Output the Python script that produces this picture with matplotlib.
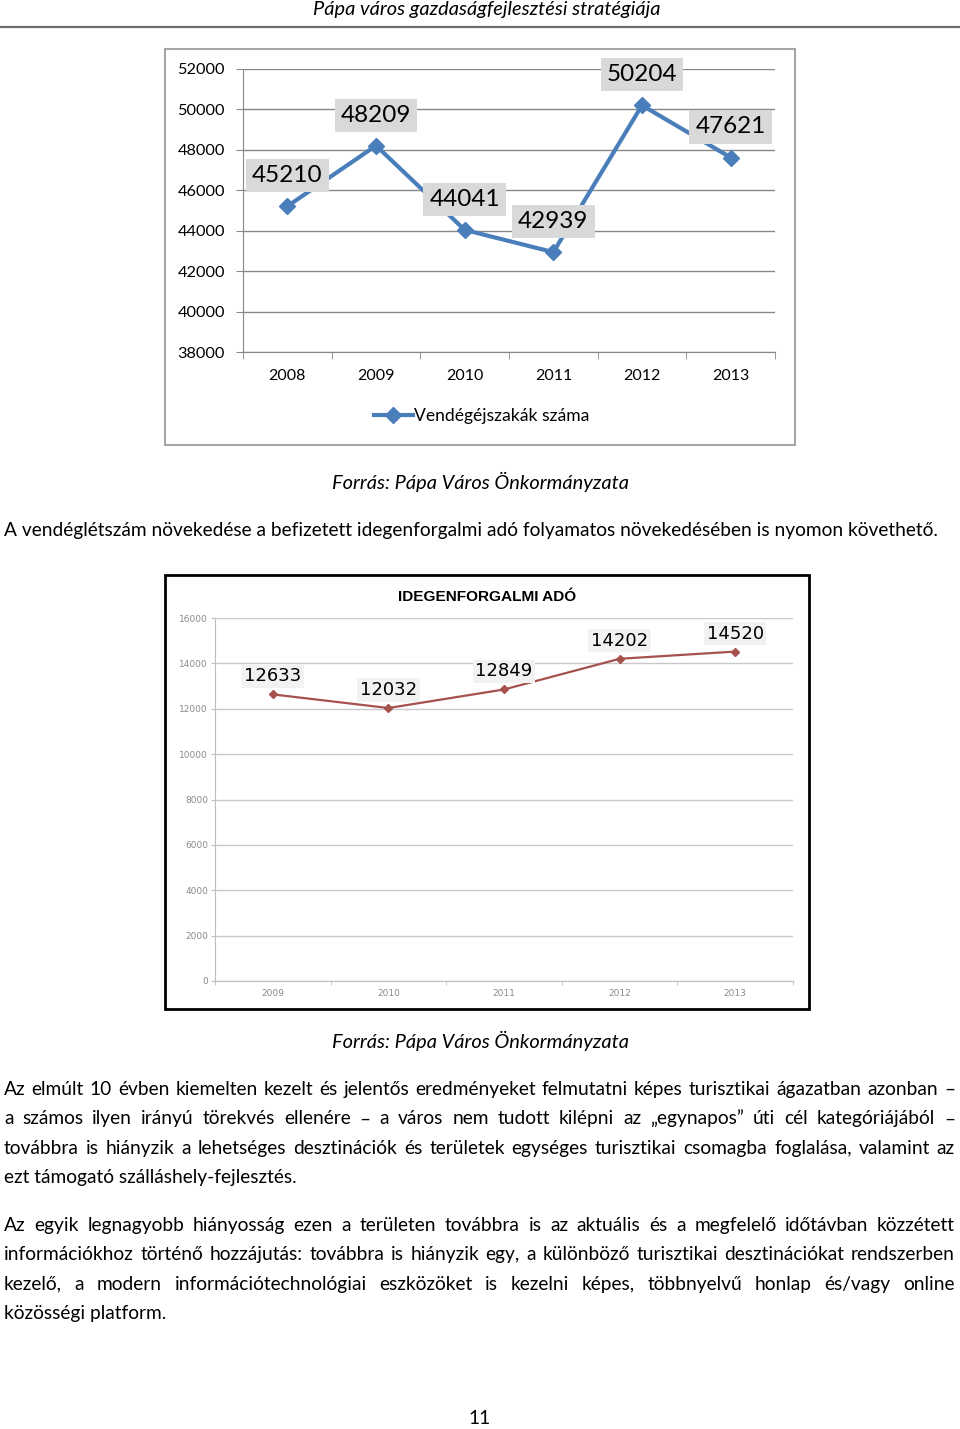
import matplotlib
matplotlib.use("Agg")
import matplotlib.pyplot as plt
from matplotlib.lines import Line2D
from matplotlib.patches import Rectangle

W, H = 960, 1429

# --- data -------------------------------------------------------------
years_nights = ["2008", "2009", "2010", "2011", "2012", "2013"]
nights = [45210, 48209, 44041, 42939, 50204, 47621]
nights_label = "Vendégéjszakák száma"

years_tax = ["2009", "2010", "2011", "2012", "2013"]
tax = [12633, 12032, 12849, 14202, 14520]
tax_title = "IDEGENFORGALMI ADÓ"

header = "Pápa város gazdaságfejlesztési stratégiája"
source = "Forrás: Pápa Város Önkormányzata"
intro = ("A vendéglétszám növekedése a befizetett idegenforgalmi adó "
         "folyamatos növekedésében is nyomon követhető.")
para1 = [
    "Az elmúlt 10 évben kiemelten kezelt és jelentős eredményeket felmutatni képes turisztikai ágazatban azonban –",
    "a számos ilyen irányú törekvés ellenére – a város nem tudott kilépni az „egynapos” úti cél kategóriájából –",
    "továbbra is hiányzik a lehetséges desztinációk és területek egységes turisztikai csomagba foglalása, valamint az",
    "ezt támogató szálláshely-fejlesztés.",
]
para2 = [
    "Az egyik legnagyobb hiányosság ezen a területen továbbra is az aktuális és a megfelelő időtávban közzétett",
    "információkhoz történő hozzájutás: továbbra is hiányzik egy, a különböző turisztikai desztinációkat rendszerben",
    "kezelő, a modern információtechnológiai eszközöket is kezelni képes, többnyelvű honlap és/vagy online",
    "közösségi platform.",
]
page_no = "11"

BODY = "Lato"
BODY_SIZE = 13.8
ITALIC_SIZE = 14.4
BASE = 6  # px from line centre down to the baseline

plt.rcParams["font.family"] = [BODY, "DejaVu Sans"]


def fx(x):
    return x / W


def fy(y):
    return 1 - y / H


def rect(x0, y0, x1, y1):
    return [x0 / W, 1 - y1 / H, (x1 - x0) / W, (y1 - y0) / H]


fig = plt.figure(figsize=(W / 100, H / 100), dpi=100)
renderer = fig.canvas.get_renderer()

# header
fig.text(fx(487), fy(10), header, ha="center", va="center",
         style="italic", fontsize=ITALIC_SIZE)
fig.add_artist(Line2D([0, 1], [fy(27), fy(27)], color="#6e6e6e", lw=1.6,
                      transform=fig.transFigure))

# --- chart 1: guest nights -------------------------------------------
fig.add_artist(Rectangle((fx(165), fy(445)), 630 / W, 396 / H, fill=False,
                         edgecolor="#a6a6a6", lw=1.5, transform=fig.transFigure))
ax1 = fig.add_axes(rect(243, 69, 775, 352))
x1 = list(range(len(nights)))
ax1.plot(x1, nights, color="#4a7ebb", lw=3, marker="D", ms=8,
         label=nights_label, zorder=3)
ax1.set_xlim(-0.5, len(nights) - 0.5)
ax1.set_ylim(38000, 52000)
ax1.set_yticks(range(38000, 52001, 2000))
ax1.set_xticks(x1)
ax1.set_xticklabels(years_nights)
ax1.set_xticks([i - 0.5 for i in range(len(nights) + 1)], minor=True)
ax1.tick_params(axis="x", which="major", length=0, pad=12, labelsize=11.5)
ax1.tick_params(axis="x", which="minor", length=5, color="#878787")
ax1.tick_params(axis="y", length=5, color="#878787", pad=8, labelsize=11.7)
ax1.grid(axis="y", color="#878787", lw=1)
ax1.set_axisbelow(True)
for s in ("top", "right"):
    ax1.spines[s].set_visible(False)
for s in ("left", "bottom"):
    ax1.spines[s].set_color("#878787")
for xi, v in zip(x1, nights):
    ax1.annotate(str(v), (xi, v), xytext=(0, 22), textcoords="offset points",
                 ha="center", va="center", fontsize=17.5, zorder=4,
                 bbox=dict(boxstyle="square,pad=0.25", fc="#d9d9d9", ec="none"))
ax1.legend(loc="center", bbox_to_anchor=(fx(482), fy(416)),
           bbox_transform=fig.transFigure, frameon=False, fontsize=12.6,
           handlelength=2.2, handletextpad=0.1)

fig.text(fx(480), fy(482), source, ha="center", va="center",
         style="italic", fontsize=ITALIC_SIZE)
fig.text(fx(4), fy(530 + BASE), intro, ha="left", va="baseline",
         fontsize=BODY_SIZE)

# --- chart 2: tourist tax --------------------------------------------
fig.add_artist(Rectangle((fx(165), fy(1009)), 644 / W, 434 / H, fill=False,
                         edgecolor="black", lw=2, transform=fig.transFigure))
fig.text(fx(487), fy(597), tax_title, ha="center", va="center",
         family="Liberation Sans", weight="bold", fontsize=11.1)
ax2 = fig.add_axes(rect(215, 618, 793, 981))
x2 = list(range(len(tax)))
ax2.plot(x2, tax, color="#a5524c", lw=1.6, marker="D", ms=4, zorder=3)
ax2.set_xlim(-0.5, len(tax) - 0.5)
ax2.set_ylim(0, 16000)
ax2.set_yticks(range(0, 16001, 2000))
ax2.set_xticks(x2)
ax2.set_xticklabels(years_tax)
ax2.set_xticks([i - 0.5 for i in range(len(tax) + 1)], minor=True)
ax2.tick_params(axis="x", which="major", length=0, pad=6, labelsize=6.5,
                labelcolor="#8a8a8a")
ax2.tick_params(axis="x", which="minor", length=3, color="#bfbfbf")
ax2.tick_params(axis="y", length=3, color="#bfbfbf", pad=2, labelsize=6.5,
                labelcolor="#8a8a8a")
for lab in ax2.get_xticklabels() + ax2.get_yticklabels():
    lab.set_family("DejaVu Sans")
ax2.grid(axis="y", color="#c8c8c8", lw=1)
ax2.set_axisbelow(True)
for s in ("top", "right"):
    ax2.spines[s].set_visible(False)
for s in ("left", "bottom"):
    ax2.spines[s].set_color("#bfbfbf")
for xi, v in zip(x2, tax):
    ax2.annotate(str(v), (xi, v), xytext=(0, 13), textcoords="offset points",
                 ha="center", va="center", fontsize=13, family="DejaVu Sans",
                 zorder=4,
                 bbox=dict(boxstyle="square,pad=0.15", fc="#f2f2f2", ec="none"))

fig.text(fx(480), fy(1041), source, ha="center", va="center",
         style="italic", fontsize=ITALIC_SIZE)


# --- justified body text ----------------------------------------------
def justified(lines, y0, step, left=4, right=955):
    for i, line in enumerate(lines):
        y = fy(y0 + i * step + BASE)
        if i == len(lines) - 1:
            fig.text(fx(left), y, line, ha="left", va="baseline",
                     fontsize=BODY_SIZE)
            continue
        words = line.split(" ")
        texts = [fig.text(0, y, w, ha="left", va="baseline", fontsize=BODY_SIZE)
                 for w in words]
        widths = [t.get_window_extent(renderer).width for t in texts]
        gap = (right - left - sum(widths)) / (len(words) - 1)
        x = left
        for t, w in zip(texts, widths):
            t.set_x(fx(x))
            x += w + gap


justified(para1, 1089, 29.3)
justified(para2, 1225, 29.3)

fig.text(fx(480), fy(1419), page_no, ha="center", va="center", fontsize=BODY_SIZE)

fig.savefig("out.png", dpi=100)
